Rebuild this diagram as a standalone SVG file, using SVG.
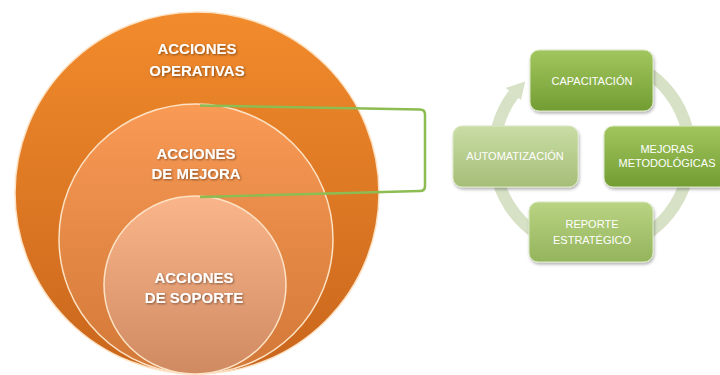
<svg xmlns="http://www.w3.org/2000/svg" width="720" height="375" viewBox="0 0 720 375">
<defs>
<linearGradient id="gO" x1="0" y1="0" x2="0" y2="1"><stop offset="0" stop-color="#f28b2c"/><stop offset="1" stop-color="#c9661c"/></linearGradient>
<linearGradient id="gM" x1="0" y1="0" x2="0" y2="1"><stop offset="0" stop-color="#f99a55"/><stop offset="1" stop-color="#d27838"/></linearGradient>
<linearGradient id="gI" x1="0" y1="0" x2="0" y2="1"><stop offset="0" stop-color="#fbb58a"/><stop offset="1" stop-color="#cf8a62"/></linearGradient>
<linearGradient id="gDark" x1="0" y1="0" x2="0" y2="1"><stop offset="0" stop-color="#a2c65e"/><stop offset="1" stop-color="#729d33"/></linearGradient>
<linearGradient id="gMed" x1="0" y1="0" x2="0" y2="1"><stop offset="0" stop-color="#b9d483"/><stop offset="1" stop-color="#94b45c"/></linearGradient>
<linearGradient id="gLight" x1="0" y1="0" x2="0" y2="1"><stop offset="0" stop-color="#c9dca5"/><stop offset="1" stop-color="#a5be77"/></linearGradient>
<filter id="ts" x="-10%" y="-30%" width="120%" height="160%"><feDropShadow dx="1" dy="1" stdDeviation="0.8" flood-color="#000" flood-opacity="0.45"/></filter>
<filter id="bs" x="-10%" y="-10%" width="125%" height="130%"><feDropShadow dx="1" dy="2" stdDeviation="1.5" flood-color="#000" flood-opacity="0.3"/></filter>
</defs>
<style>
.circ{stroke:#fde2c4;stroke-width:1.5}
.big{font-family:"Liberation Sans",Arial,sans-serif;font-weight:bold;font-size:15px;fill:#fff;text-anchor:middle;filter:url(#ts)}
.box{stroke:#dbe8c5;stroke-width:1;filter:url(#bs)}
.lbl{font-family:"Liberation Sans",Arial,sans-serif;font-size:11px;fill:#fff;text-anchor:middle}
.conn{fill:none;stroke:#8cbc52;stroke-width:2.5;stroke-linejoin:round}
</style>
<g id="acciones-operativas">
<ellipse class="circ" cx="197" cy="193" rx="182" ry="181" fill="url(#gO)"/>
<text class="big" x="197" y="54">ACCIONES</text>
<text class="big" x="197" y="76">OPERATIVAS</text>
</g>
<g id="acciones-mejora">
<ellipse class="circ" cx="196" cy="239" rx="137" ry="135" fill="url(#gM)"/>
<text class="big" x="196" y="159">ACCIONES</text>
<text class="big" x="196" y="179">DE MEJORA</text>
</g>
<g id="acciones-soporte">
<ellipse class="circ" cx="195" cy="285" rx="91" ry="89" fill="url(#gI)"/>
<text class="big" x="194" y="283">ACCIONES</text>
<text class="big" x="194" y="303">DE SOPORTE</text>
</g>
<g id="connectors">
<path class="conn" d="M200,105.5 L420,109.5 Q425,109.6 425,114.5 L425,186 Q425,191 420,191.1 L200,197"/>
<path d="M641,68.1 A98,98 0 1 1 513.7,94" fill="none" stroke="#d6e1c6" stroke-width="12"/>
<polygon points="525.2,81.4 521,100 505.8,88" fill="#d6e1c6"/>
</g>
<g id="capacitacion">
<rect class="box" x="530" y="50" width="123" height="61" rx="9" fill="url(#gDark)"/>
<text class="lbl" x="592" y="85">CAPACITACIÓN</text>
</g>
<g id="mejoras-metodologicas">
<rect class="box" x="604" y="126" width="124" height="61" rx="9" fill="url(#gDark)"/>
<text class="lbl" x="667" y="153">MEJORAS</text>
<text class="lbl" x="667" y="167">METODOLÓGICAS</text>
</g>
<g id="reporte-estrategico">
<rect class="box" x="529" y="202" width="124" height="60" rx="9" fill="url(#gMed)"/>
<text class="lbl" x="592" y="228">REPORTE</text>
<text class="lbl" x="592" y="244">ESTRATÉGICO</text>
</g>
<g id="automatizacion">
<rect class="box" x="453" y="126" width="125" height="61" rx="9" fill="url(#gLight)"/>
<text class="lbl" x="515" y="160">AUTOMATIZACIÓN</text>
</g>
</svg>
